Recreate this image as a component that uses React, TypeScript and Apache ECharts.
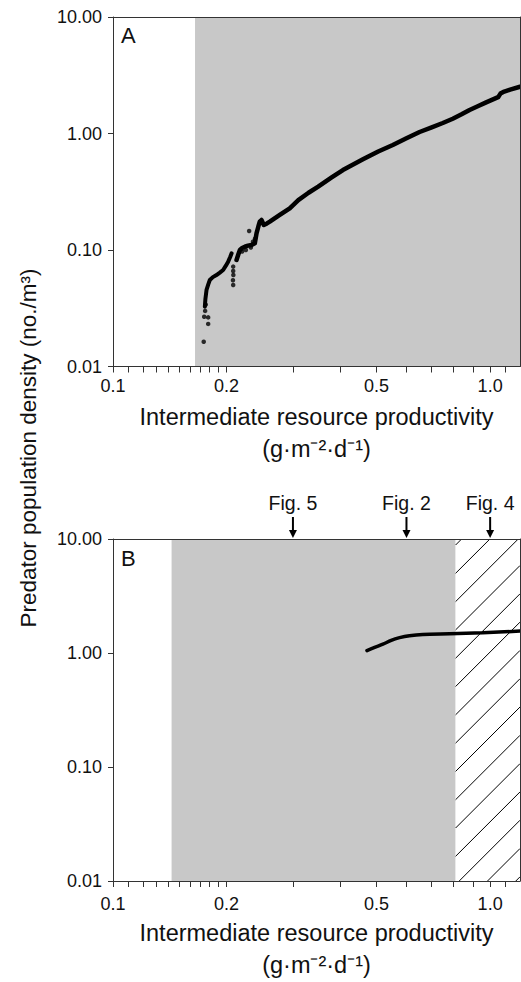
import React, { useEffect, useRef } from "react";
import * as echarts from "echarts";

const FONT = "'Liberation Sans', Arial, Helvetica, sans-serif";
const INK = "#111";
const AXIS = "#333";
const GREY = "#c8c8c8";

// ---- tick values / labels ----
const xTickValues = [
  0.1, 0.11, 0.12, 0.13, 0.14, 0.15, 0.16, 0.17, 0.18, 0.19,
  0.2, 0.3, 0.4, 0.5, 0.6, 0.7, 0.8, 0.9, 1.0, 1.1,
];
const xLabelValues = [0.1, 0.2, 0.5, 1.0];
const yLabelValues = [0.01, 0.1, 1, 10];
const xRange = [0.1, 1.2];
const yRange = [0.01, 10];

// ---- Panel A ----
const aShadeRange = [0.165, 1.2];
const aLowBranch = [
  [0.1752, 0.0326], [0.1758, 0.038], [0.177, 0.0454], [0.179, 0.051],
  [0.1806, 0.0553], [0.184, 0.0585], [0.1881, 0.061], [0.192, 0.064],
  [0.1959, 0.0673], [0.199, 0.073], [0.202, 0.0794], [0.2045, 0.087],
  [0.2063, 0.0937],
];
const aMainBranch = [
  [0.2126, 0.0821], [0.215, 0.092], [0.217, 0.1], [0.22, 0.104],
  [0.2237, 0.1067], [0.228, 0.109], [0.233, 0.1104], [0.2377, 0.1142],
  [0.2402, 0.1391], [0.243, 0.16], [0.245, 0.175], [0.2476, 0.1809],
  [0.2511, 0.1639], [0.256, 0.169], [0.2605, 0.175], [0.2768, 0.1998],
  [0.2942, 0.228], [0.31, 0.268], [0.33, 0.31], [0.35, 0.35],
  [0.38, 0.42], [0.407, 0.486], [0.46, 0.6], [0.505, 0.7],
  [0.552, 0.797], [0.6, 0.91], [0.65, 1.03], [0.7, 1.13],
  [0.749, 1.23], [0.796, 1.34], [0.84, 1.46], [0.882, 1.59],
  [0.93, 1.72], [0.976, 1.85], [1.05, 2.05], [1.065, 2.2],
  [1.09, 2.29], [1.13, 2.38], [1.2, 2.52],
];
const aStrayDots = [
  [0.174, 0.0163], [0.1745, 0.0267], [0.1788, 0.0264], [0.1788, 0.0232],
  [0.1755, 0.03], [0.1762, 0.034], [0.2083, 0.072], [0.2083, 0.066],
  [0.2085, 0.061], [0.208, 0.055], [0.2083, 0.05], [0.2296, 0.1456],
  [0.22, 0.097], [0.225, 0.1], [0.232, 0.105], [0.235, 0.118],
  [0.238, 0.125],
];

// ---- Panel B ----
const bShadeRange = [0.143, 0.81];
const bHatchRange = [0.81, 1.2];
const bCurve = [
  [0.4714, 1.049], [0.494, 1.119], [0.5196, 1.194], [0.5466, 1.292],
  [0.5751, 1.363], [0.611, 1.418], [0.663, 1.455], [0.7805, 1.475],
  [0.9559, 1.504], [1.2, 1.556],
];
const figArrowX = [0.3, 0.6, 1.0];
const figLabels = ["Fig. 5", "Fig. 2", "Fig. 4"];

const xTitle = "Intermediate resource productivity\n(g·m⁻²·d⁻¹)";
const yTitle = "Predator population density (no./m³)";

function bottomX(gridIndex: number, labelMargin: number, nameGap: number) {
  return {
    type: "log",
    logBase: 10,
    gridIndex,
    min: xRange[0],
    max: xRange[1],
    position: "bottom",
    z: 10,
    axisLine: { show: true, onZero: false, lineStyle: { color: AXIS, width: 1 } },
    axisTick: {
      show: true,
      customValues: xTickValues,
      length: 6,
      lineStyle: { color: AXIS, width: 1 },
    },
    axisLabel: {
      customValues: xLabelValues,
      formatter: (v: number) => v.toFixed(1),
      fontSize: 18,
      color: INK,
      fontFamily: FONT,
      margin: labelMargin,
    },
    splitLine: { show: false },
    minorTick: { show: false },
    name: xTitle,
    nameLocation: "middle",
    nameGap,
    nameTextStyle: { fontSize: 23.5, lineHeight: 32, color: INK, fontFamily: FONT },
  };
}
function topX(gridIndex: number) {
  return {
    type: "log",
    logBase: 10,
    gridIndex,
    min: xRange[0],
    max: xRange[1],
    position: "top",
    z: 10,
    axisLine: { show: true, onZero: false, lineStyle: { color: AXIS, width: 1 } },
    axisTick: { show: false },
    axisLabel: { show: false },
    splitLine: { show: false },
  };
}
function leftY(gridIndex: number) {
  return {
    type: "log",
    logBase: 10,
    gridIndex,
    min: yRange[0],
    max: yRange[1],
    position: "left",
    z: 10,
    axisLine: { show: true, onZero: false, lineStyle: { color: AXIS, width: 1 } },
    axisTick: { show: true, length: 5, lineStyle: { color: AXIS, width: 1 } },
    axisLabel: {
      customValues: yLabelValues,
      formatter: (v: number) => v.toFixed(2),
      fontSize: 18,
      color: INK,
      fontFamily: FONT,
      margin: 11,
    },
    splitLine: { show: false },
  };
}
function rightY(gridIndex: number) {
  return {
    type: "log",
    logBase: 10,
    gridIndex,
    min: yRange[0],
    max: yRange[1],
    position: "right",
    z: 10,
    axisLine: { show: true, onZero: false, lineStyle: { color: AXIS, width: 1 } },
    axisTick: { show: false },
    axisLabel: { show: false },
    splitLine: { show: false },
  };
}

export default function App() {
  const ref = useRef<HTMLDivElement>(null);
  useEffect(() => {
    document.body.style.margin = "0";
    const chart = echarts.init(ref.current!, null, { renderer: "svg" });
    const option: any = {
      animation: false,
      backgroundColor: "#fff",
      grid: [
        { left: 113, top: 17, width: 407, height: 349.5 },
        { left: 113, top: 539, width: 407, height: 350 },
      ],
      xAxis: [bottomX(0, 10, 34), topX(0), bottomX(1, 14, 36), topX(1)],
      yAxis: [leftY(0), rightY(0), leftY(1), rightY(1)],
      graphic: [
        {
          type: "text",
          x: 28,
          y: 448,
          rotation: Math.PI / 2,
          z: 20,
          style: {
            text: yTitle,
            fontSize: 22.5,
            fontFamily: FONT,
            fill: INK,
            align: "center",
            verticalAlign: "middle",
          },
        },
        {
          type: "text",
          x: 121,
          y: 35,
          z: 20,
          style: { text: "A", fontSize: 22, fontFamily: FONT, fill: INK, align: "left", verticalAlign: "middle" },
        },
        {
          type: "text",
          x: 121,
          y: 558,
          z: 20,
          style: { text: "B", fontSize: 22, fontFamily: FONT, fill: INK, align: "left", verticalAlign: "middle" },
        },
      ],
      series: [
        {
          type: "line",
          xAxisIndex: 0,
          yAxisIndex: 0,
          data: aMainBranch,
          showSymbol: false,
          symbol: "none",
          z: 3,
          lineStyle: { color: "#000", width: 4.5, join: "round", cap: "round" },
          markArea: {
            silent: true,
            itemStyle: { color: GREY },
            data: [[{ xAxis: aShadeRange[0] }, { xAxis: aShadeRange[1] }]],
          },
        },
        {
          type: "line",
          xAxisIndex: 0,
          yAxisIndex: 0,
          data: aLowBranch,
          showSymbol: false,
          symbol: "none",
          z: 3,
          lineStyle: { color: "#000", width: 4, join: "round", cap: "round" },
        },
        {
          type: "scatter",
          xAxisIndex: 0,
          yAxisIndex: 0,
          data: aStrayDots,
          symbolSize: 4.5,
          z: 3,
          itemStyle: { color: "#000" },
        },
        {
          type: "custom",
          xAxisIndex: 2,
          yAxisIndex: 2,
          z: 1,
          clip: false,
          silent: true,
          data: [bHatchRange],
          renderItem: (params: any, api: any) => {
            const p0 = api.coord([api.value(0), yRange[1]]);
            const p1 = api.coord([api.value(1), yRange[0]]);
            const x0 = p0[0], y0 = p0[1], x1 = p1[0], y1 = p1[1];
            const children: any[] = [
              { type: "rect", shape: { x: x0, y: y0, width: x1 - x0, height: y1 - y0 }, style: { fill: "#fff" } },
            ];
            const step = 28.3;
            for (let c = x0 + y0 + 6; c < x1 + y1; c += step) {
              let ax = x0, ay = c - x0;
              if (ay > y1) { ay = y1; ax = c - y1; }
              let bx = x1, by = c - x1;
              if (by < y0) { by = y0; bx = c - y0; }
              if (ax < bx) {
                children.push({
                  type: "line",
                  shape: { x1: ax, y1: ay, x2: bx, y2: by },
                  style: { stroke: "#000", lineWidth: 1 },
                });
              }
            }
            return { type: "group", children };
          },
        },
        {
          type: "line",
          xAxisIndex: 2,
          yAxisIndex: 2,
          data: bCurve,
          showSymbol: false,
          symbol: "none",
          smooth: 0.3,
          z: 4,
          lineStyle: { color: "#000", width: 3.5, cap: "round" },
          markArea: {
            silent: true,
            itemStyle: { color: GREY },
            data: [[{ xAxis: bShadeRange[0] }, { xAxis: bShadeRange[1] }]],
          },
        },
        {
          type: "custom",
          xAxisIndex: 2,
          yAxisIndex: 2,
          z: 12,
          clip: false,
          silent: true,
          data: figArrowX.map((x) => [x, yRange[1]]),
          renderItem: (params: any, api: any) => {
            const p = api.coord([api.value(0), api.value(1)]);
            const x = p[0], y = p[1];
            return {
              type: "group",
              children: [
                { type: "line", shape: { x1: x, y1: y - 22, x2: x, y2: y - 7 }, style: { stroke: "#000", lineWidth: 2 } },
                { type: "polygon", shape: { points: [[x - 4, y - 9], [x + 4, y - 9], [x, y - 1]] }, style: { fill: "#000" } },
                {
                  type: "text",
                  x,
                  y: y - 36,
                  style: {
                    text: figLabels[params.dataIndex],
                    fontSize: 19.5,
                    fontFamily: FONT,
                    fill: INK,
                    align: "center",
                    verticalAlign: "middle",
                  },
                },
              ],
            };
          },
        },
      ],
    };
    chart.setOption(option);
    return () => chart.dispose();
  }, []);
  return <div ref={ref} style={{ width: 521, height: 982 }} />;
}
